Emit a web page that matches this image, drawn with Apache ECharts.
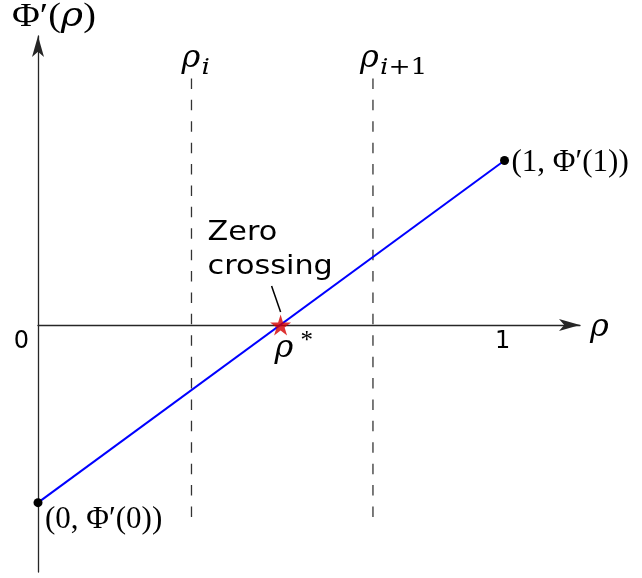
<!DOCTYPE html>
<html>
<head>
<meta charset="utf-8">
<script src="https://cdn.jsdelivr.net/npm/echarts@6/dist/echarts.min.js"></script>
<style>
  html, body { margin: 0; padding: 0; background: #ffffff; }
  #chart { width: 642px; height: 578px; }
</style>
</head>
<body>
<div id="chart"></div>
<script>
// Φ'(ρ) at both ends of the interval [0, 1]
const rhoEnds = [0, 1];
const phiPrimeEnds = [-1.08, 1.0];
const endArgs = ['0', '1'];

// cell boundaries ρ_i and ρ_{i+1}, with the vertical extent of their guide lines
const cellRho = [0.329, 0.718];
const cellSub = ['i', 'i+1'];
const cellSpan = [-1.167, 1.50];

// zero crossing of Φ'
const rhoStar = 0.52;
const phiAtStar = 0;

// ticks on the ρ axis
const rhoTicks = [0, 1];
const rhoTickLabels = ['0', '1'];

// axis ranges
const rhoRange = [0, 1.1618];
const phiRange = [-1.5015, 1.7568];

const UPRIGHT = '"Liberation Serif", "DejaVu Serif", serif';
const ITALIC = '"DejaVu Serif", serif';
const SANS = '"DejaVu Sans", sans-serif';
const AXIS_COLOR = '#262626';
const STAR = 'path://M50,0 L61.2,34.5 L97.6,34.5 L68.2,55.9 L79.4,90.5 L50,69.1 L20.6,90.5 L31.8,55.9 L2.4,34.5 L38.8,34.5 Z';

const chart = echarts.init(document.getElementById('chart'), null, { renderer: 'canvas' });

const axisLine = {
  show: true,
  onZero: true,
  symbol: ['none', 'arrow'],
  symbolSize: [9, 21],
  lineStyle: { color: AXIS_COLOR, width: 1.3 }
};

const dashed = { color: '#333', width: 1.3, type: [10.5, 10.9] };

const option = {
  animation: false,
  backgroundColor: '#ffffff',
  grid: { left: 38, right: 62, top: 36, bottom: 6, containLabel: false, outerBoundsMode: 'none' },
  xAxis: {
    type: 'value',
    min: rhoRange[0],
    max: rhoRange[1],
    interval: 1,
    axisLine: axisLine,
    axisTick: { show: false },
    axisLabel: { show: false },
    splitLine: { show: false }
  },
  yAxis: {
    type: 'value',
    min: phiRange[0],
    max: phiRange[1],
    axisLine: axisLine,
    axisTick: { show: false },
    axisLabel: { show: false },
    splitLine: { show: false }
  },
  series: [
    {
      name: 'ρ_i',
      type: 'line',
      data: [[cellRho[0], cellSpan[0]], [cellRho[0], cellSpan[1]]],
      symbol: 'none',
      silent: true,
      lineStyle: dashed,
      z: 1
    },
    {
      name: 'ρ_{i+1}',
      type: 'line',
      data: [[cellRho[1], cellSpan[0]], [cellRho[1], cellSpan[1]]],
      symbol: 'none',
      silent: true,
      lineStyle: dashed,
      z: 1
    },
    {
      name: "Φ'",
      type: 'line',
      data: rhoEnds.map(function (r, k) { return [r, phiPrimeEnds[k]]; }),
      symbol: 'circle',
      symbolSize: 9,
      showAllSymbol: true,
      itemStyle: { color: '#000' },
      lineStyle: { color: '#0000ff', width: 2 },
      z: 3
    },
    {
      name: 'zero crossing',
      type: 'scatter',
      data: [[rhoStar, phiAtStar]],
      symbol: STAR,
      symbolSize: 21,
      itemStyle: { color: '#d40000' },
      z: 5
    }
  ]
};

chart.setOption(option);

// annotations anchored to data positions
const at = function (x, y) { return chart.convertToPixel({ gridIndex: 0 }, [x, y]); };
const yTop = at(0, phiRange[1]);
const xEnd = at(rhoRange[1], 0);
const starPx = at(rhoStar, phiAtStar);
const graphics = [];

const richMath = function (size) {
  return {
    u: { fontFamily: UPRIGHT, fontSize: size, fill: '#000' },
    i: { fontFamily: ITALIC, fontStyle: 'italic', fontSize: size, fill: '#000' }
  };
};
const mathText = function (x, y, text, size, extra) {
  const el = {
    type: 'text',
    x: x,
    y: y,
    style: { text: text, rich: richMath(size), textVerticalAlign: 'middle', textAlign: 'left' },
    z: 20
  };
  return Object.assign(el, extra || {});
};

// Φ'(ρ) axis title
graphics.push(mathText(yTop[0] - 26, 17, '{u|Φ′(}{i|ρ}{u|)}', 34, { scaleX: 1.12 }));

// ρ axis name
graphics.push(mathText(xEnd[0] + 10, xEnd[1] + 3, '{i|ρ}', 32));

// tick labels along ρ: the origin label sits below-left, the others below
rhoTicks.forEach(function (t, k) {
  const p = at(t, 0);
  graphics.push({
    type: 'text',
    x: k === 0 ? p[0] - 9 : p[0] - 2,
    y: p[1] + 17,
    style: {
      text: rhoTickLabels[k],
      fontFamily: SANS,
      fontSize: 24,
      fill: '#000',
      textAlign: k === 0 ? 'right' : 'center',
      textVerticalAlign: 'middle'
    },
    z: 20
  });
});

// ρ_i and ρ_{i+1} over the guide lines
const cellLabelShift = [-10, -13];
cellRho.forEach(function (r, k) {
  const p = at(r, cellSpan[1]);
  graphics.push(mathText(p[0] + cellLabelShift[k], p[1] - 20, '{i|ρ}', 32));
  const sub = cellSub[k].split('').map(function (c) {
    return c === 'i' ? '{i|i}' : '{s|' + c + '}';
  }).join('');
  graphics.push({
    type: 'text',
    x: p[0] + cellLabelShift[k] + 20,
    y: p[1] - 10,
    scaleX: 1.15,
    style: {
      text: sub,
      textVerticalAlign: 'middle',
      rich: {
        i: { fontFamily: ITALIC, fontStyle: 'italic', fontSize: 23, fill: '#000' },
        s: { fontFamily: ITALIC, fontSize: 23, fill: '#000' }
      }
    },
    z: 20
  });
});

// labels at the end points of Φ'
rhoEnds.forEach(function (r, k) {
  const p = at(r, phiPrimeEnds[k]);
  const txt = '{u|(' + endArgs[k] + ', Φ′(' + endArgs[k] + '))}';
  graphics.push(mathText(p[0] + 7, k === 0 ? p[1] + 17 : p[1] + 2, txt, 31));
});

// ρ* under the zero crossing
graphics.push(mathText(starPx[0] - 6, starPx[1] + 24, '{i|ρ}', 32));
graphics.push(mathText(starPx[0] + 20, starPx[1] + 16, '{u|*}', 25));

// "Zero crossing" callout with its leader
graphics.push({
  type: 'text',
  x: starPx[0] - 73,
  y: starPx[1] - 109,
  scaleX: 1.12,
  style: {
    text: 'Zero\ncrossing',
    fontFamily: SANS,
    fontSize: 27,
    lineHeight: 34,
    fill: '#000',
    textVerticalAlign: 'top'
  },
  z: 20
});
graphics.push({
  type: 'line',
  shape: { x1: starPx[0] - 9, y1: starPx[1] - 39, x2: starPx[0], y2: starPx[1] - 13 },
  style: { stroke: '#000', lineWidth: 1.5 },
  z: 10
});

chart.setOption({ graphic: graphics });
</script>
</body>
</html>
